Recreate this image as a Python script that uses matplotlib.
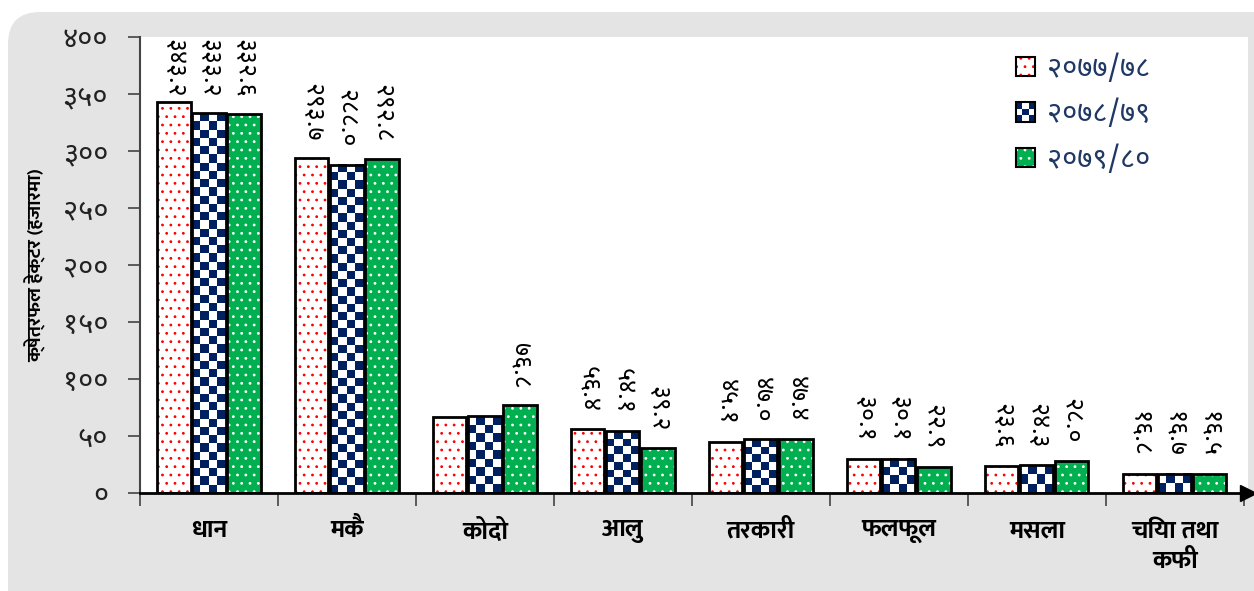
import numpy as np
import matplotlib
matplotlib.use("Agg")
import matplotlib.pyplot as plt
from matplotlib import font_manager
from matplotlib.patches import Rectangle, FancyBboxPatch, Patch
from matplotlib.colors import ListedColormap
from matplotlib.legend_handler import HandlerBase
from matplotlib.transforms import IdentityTransform

# data (क्षेत्रफल हेक्टर, हजारमा)
categories = ["धान", "मकै", "कोदो", "आलु", "तरकारी", "फलफूल", "मसला", "चिया तथा\nकफी"]
years = ["२०७७/७८", "२०७८/७९", "२०७९/८०"]
y2077 = [343.2, 293.7, 66.5, 56.4, 45.1, 30.1, 23.6, 16.8]
y2078 = [333.2, 288.0, 67.4, 54.1, 47.0, 30.1, 24.3, 16.7]
y2079 = [332.6, 292.8, 76.8, 39.2, 47.4, 22.9, 28.0, 16.5]
yticks = [0, 50, 100, 150, 200, 250, 300, 350, 400]
hidden_labels = [(0, 2), (1, 2)]   # कोदो का पहिला दुई लेबल चार्टमा छैनन्

NAVY = "#002060"
GREEN = "#00B050"
RED = "#FF0000"
BG = "#E4E4E4"
LEG_TXT = "#1F3864"

# pick installed Devanagari fonts
names = {f.name for f in font_manager.fontManager.ttflist}


def first_of(cands):
    for c in cands:
        if c in names:
            return [c, "DejaVu Sans"]
    return ["DejaVu Sans"]


REG = first_of(["Noto Sans Devanagari", "Hind", "Mukta", "Ek Mukta", "FreeSans"])
BOLD = first_of(["Ek Mukta", "Biryani", "Noto Sans Devanagari", "FreeSans"])
plt.rcParams["font.family"] = REG
plt.rcParams["hatch.linewidth"] = 0.8


def to_deva(s):
    return s.translate(str.maketrans("0123456789", "०१२३४५६७८९"))


fig = plt.figure(figsize=(12.54, 5.91), dpi=100)
fig.patch.set_facecolor("white")
bg = FancyBboxPatch((8, -40), 1300, 619, boxstyle="round,pad=0,rounding_size=32",
                    transform=IdentityTransform(), facecolor=BG, edgecolor="none", zorder=-10)
fig.patches.append(bg)

ax = fig.add_axes([140 / 1254, 1 - 493 / 591, 1108 / 1254, (493 - 37) / 591])
ax.set_facecolor("white")

x = np.arange(len(categories))
w = 0.24
step = 0.254
series = [y2077, y2078, y2079]

# 2077/78: white with red dots
ax.bar(x - step, y2077, w, color="white", edgecolor=RED, hatch="..", linewidth=0, zorder=2)
# 2078/79: navy checkerboard
for xi, v in zip(x, y2078):
    rows = max(1, int(round(v * 1.14 / 8.2)))
    board = np.indices((rows, 4)).sum(axis=0) % 2
    ax.imshow(board, cmap=ListedColormap(["white", NAVY]), aspect="auto", interpolation="nearest",
              extent=(xi - w / 2, xi + w / 2, 0, v), origin="upper", zorder=2)
# 2079/80: green with white dots
ax.bar(x + step, y2079, w, color=GREEN, edgecolor="white", hatch="..", linewidth=0, zorder=2)
# outlines
for k, vals in enumerate(series):
    ax.bar(x + (k - 1) * step, vals, w, fill=False, edgecolor="black", linewidth=2, zorder=3)

# value labels
for k, vals in enumerate(series):
    for i, v in enumerate(vals):
        if (k, i) in hidden_labels:
            continue
        xp = x[i] + (k - 1) * step
        txt = to_deva(f"{v:.1f}")
        if v + 70 > 400:
            ax.text(xp, 398, txt, rotation=-90, ha="center", va="top", fontsize=18, zorder=4)
        else:
            ax.text(xp, v + 15, txt, rotation=-90, ha="center", va="bottom", fontsize=18, zorder=4)

ax.set_xlim(-0.5, 7.53)
ax.set_ylim(0, 400)

ax.set_yticks(yticks)
ax.set_yticklabels([to_deva(str(t)) for t in yticks], fontsize=21, color="#222222")
ax.tick_params(axis="y", length=9, width=1.2, pad=14, color="#444444")
ax.set_ylabel("क्षेत्रफल हेक्टर (हजारमा)", fontsize=14, fontweight="bold", family=BOLD, labelpad=12)

ax.set_xticks(x)
ax.set_xticklabels(categories, fontsize=18, fontweight="bold", family=BOLD, linespacing=1.35)
ax.set_xticks(np.arange(-0.5, 8, 1), minor=True)
ax.tick_params(axis="x", which="major", length=0, pad=19)
ax.tick_params(axis="x", which="minor", length=9, width=1.2, color="#444444")

for s in ["top", "right"]:
    ax.spines[s].set_visible(False)
ax.spines["left"].set_color("#444444")
ax.spines["left"].set_linewidth(1.5)
ax.spines["bottom"].set_linewidth(2)
ax.plot(1, 0, ">", transform=ax.get_yaxis_transform(), clip_on=False,
        color="black", markersize=11, zorder=5)


class CheckerHandler(HandlerBase):
    def create_artists(self, legend, orig_handle, xd, yd, width, height, fontsize, trans):
        arts = []
        side = height
        x0 = xd + (width - side) / 2
        n = 3
        c = side / n
        for r in range(n):
            for q in range(n):
                col = NAVY if (r + q) % 2 == 0 else "white"
                arts.append(Rectangle((x0 + q * c, -yd + r * c), c, c, facecolor=col,
                                      edgecolor="none", transform=trans))
        arts.append(Rectangle((x0, -yd), side, side, fill=False, edgecolor="black",
                              linewidth=1.5, transform=trans))
        return arts


class DotHandler(HandlerBase):
    def create_artists(self, legend, orig_handle, xd, yd, width, height, fontsize, trans):
        side = height
        x0 = xd + (width - side) / 2
        p = Rectangle((x0, -yd), side, side, facecolor=orig_handle.get_facecolor(),
                      edgecolor=orig_handle.get_edgecolor(), hatch="..", linewidth=0, transform=trans)
        o = Rectangle((x0, -yd), side, side, fill=False, edgecolor="black",
                      linewidth=1.5, transform=trans)
        return [p, o]


h1 = Patch(facecolor="white", edgecolor=RED)
h2 = Patch(facecolor=NAVY)
h3 = Patch(facecolor=GREEN, edgecolor="white")
leg = ax.legend([h1, h2, h3], years, loc="upper left", bbox_to_anchor=(0.767, 1.02),
                frameon=False, fontsize=21, handlelength=0.65, handleheight=0.65,
                handletextpad=0.4, labelspacing=0.55,
                handler_map={h1: DotHandler(), h2: CheckerHandler(), h3: DotHandler()})
for t in leg.get_texts():
    t.set_color(LEG_TXT)

fig.savefig("out.png", dpi=100)
